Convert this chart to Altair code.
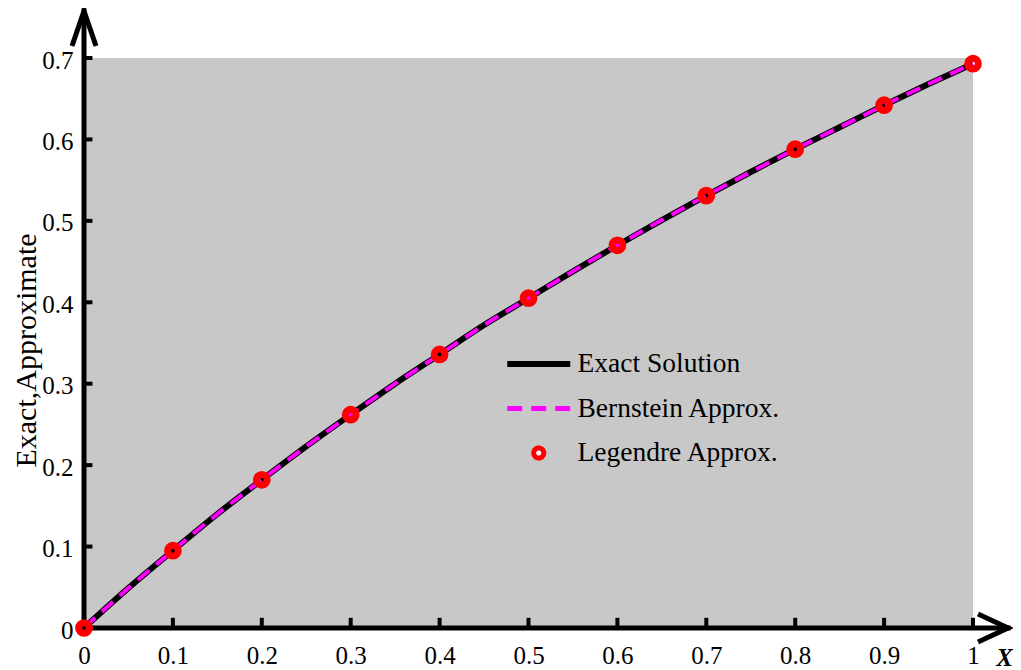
import altair as alt
import pandas as pd

SERIF = "Liberation Serif"

# ---- data ----
series_names = ["Exact Solution", "Bernstein Approx.", "Legendre Approx."]

x_fine = [0.0, 0.05, 0.1, 0.15, 0.2, 0.25, 0.3, 0.35, 0.4, 0.45, 0.5,
          0.55, 0.6, 0.65, 0.7, 0.75, 0.8, 0.85, 0.9, 0.95, 1.0]
exact_y = [0.0, 0.049, 0.095, 0.140, 0.182, 0.223, 0.262, 0.300, 0.336, 0.372, 0.405,
           0.438, 0.470, 0.501, 0.531, 0.560, 0.588, 0.615, 0.642, 0.668, 0.693]
bernstein_y = [0.0, 0.049, 0.095, 0.140, 0.182, 0.223, 0.262, 0.300, 0.336, 0.372, 0.405,
               0.438, 0.470, 0.501, 0.531, 0.560, 0.588, 0.615, 0.642, 0.668, 0.693]

x_coarse = [0.0, 0.1, 0.2, 0.3, 0.4, 0.5, 0.6, 0.7, 0.8, 0.9, 1.0]
legendre_y = [0.0, 0.095, 0.182, 0.262, 0.336, 0.405, 0.470, 0.531, 0.588, 0.642, 0.693]

x_tick_labels = [0, 0.1, 0.2, 0.3, 0.4, 0.5, 0.6, 0.7, 0.8, 0.9, 1]
y_tick_labels = [0, 0.1, 0.2, 0.3, 0.4, 0.5, 0.6, 0.7]
x_inner_ticks = [0.1, 0.2, 0.3, 0.4, 0.5, 0.6, 0.7, 0.8, 0.9, 1]
y_inner_ticks = [0.1, 0.2, 0.3, 0.4, 0.5, 0.6, 0.7]

# ---- scales ----
PLOT_W, PLOT_H = 924, 617
X_MAX = PLOT_W / 889.0          # axis arrow extends past 1
Y_MAX = PLOT_H / (570.0 / 0.7)  # axis arrow extends past 0.7
xs = alt.Scale(domain=[0, X_MAX], nice=False, zero=False)
ys = alt.Scale(domain=[0, Y_MAX], nice=False, zero=False)

X_AXIS = alt.Axis(values=x_tick_labels, format="~g", domain=False, ticks=False, grid=False,
                  labelFont=SERIF, labelFontSize=25, labelColor="black", labelPadding=15,
                  labelFlush=False, labelOverlap=False,
                  title="X", titleFont=SERIF, titleFontSize=25, titleFontStyle="italic",
                  titleFontWeight="bold", titleColor="black", titleX=920, titleY=37,
                  titleAlign="center", titleBaseline="alphabetic", titleAngle=0)
Y_AXIS = alt.Axis(values=y_tick_labels, format="~g", domain=False, ticks=False, grid=False,
                  labelFont=SERIF, labelFontSize=25, labelColor="black", labelPadding=11,
                  labelOffset=2, labelFlush=False, labelOverlap=False,
                  title="Exact,Approximate", titleFont=SERIF, titleFontSize=30,
                  titleFontWeight="normal", titleColor="black", titleAngle=270,
                  titleX=-49, titleY=339, titleAlign="center", titleBaseline="alphabetic")

one = pd.DataFrame({"k": [0]})
fine_df = pd.DataFrame({"x": x_fine, "exact": exact_y, "bern": bernstein_y})
coarse_df = pd.DataFrame({"x": x_coarse, "y": legendre_y})
xt_df = pd.DataFrame({"t": x_inner_ticks})
yt_df = pd.DataFrame({"t": y_inner_ticks})
legend_df = pd.DataFrame({"series": series_names})

bg = alt.Chart(one).mark_rect(color="#c8c8c8").encode(
    x=alt.datum(0, scale=xs, axis=X_AXIS, type="quantitative"), x2=alt.datum(1),
    y=alt.datum(0, scale=ys, axis=Y_AXIS, type="quantitative"), y2=alt.datum(0.7))

y_line = alt.Chart(one).mark_rule(color="black", strokeWidth=5, strokeCap="square").encode(
    x=alt.datum(0, type="quantitative"), y=alt.datum(0, type="quantitative"), y2=alt.datum(Y_MAX))
x_line = alt.Chart(one).mark_rule(color="black", strokeWidth=5, strokeCap="square").encode(
    y=alt.datum(0, type="quantitative"), x=alt.datum(0, type="quantitative"), x2=alt.datum(X_MAX))

x_ticks = alt.Chart(xt_df).mark_rule(color="black", strokeWidth=4).encode(
    x=alt.X("t:Q"), y=alt.datum(0, type="quantitative"), y2=alt.datum(0.0125))
y_ticks = alt.Chart(yt_df).mark_rule(color="black", strokeWidth=4).encode(
    y=alt.Y("t:Q"), x=alt.datum(0, type="quantitative"), x2=alt.datum(0.0095))

exact_line = alt.Chart(fine_df).mark_line(color="black", strokeWidth=6, interpolate="monotone").encode(
    x="x:Q", y="exact:Q")
bern_line = alt.Chart(fine_df).mark_line(color="#ff00ff", strokeWidth=4, strokeDash=[15, 9],
                                         interpolate="monotone").encode(x="x:Q", y="bern:Q")
leg_pts = alt.Chart(coarse_df).mark_point(shape="circle", size=115, filled=False, color="red",
                                          strokeWidth=7, opacity=1).encode(x="x:Q", y="y:Q")

up_arrow = alt.Chart(one).mark_point(shape="M-0.686,2L0,0L0.686,2", size=1225, filled=False,
                                     color="black", strokeWidth=5, strokeJoin="miter",
                                     opacity=1).encode(
    x=alt.datum(0, type="quantitative"), y=alt.datum(Y_MAX, type="quantitative"))
right_arrow = alt.Chart(one).mark_point(shape="M-2,-0.93L0,0L-2,0.93", size=900, filled=False,
                                        color="black", strokeWidth=5, strokeJoin="miter",
                                        opacity=1).encode(
    x=alt.datum(X_MAX, type="quantitative"), y=alt.datum(0, type="quantitative"))

# legend symbols: unit = sqrt(324)/2 = 9 px
LINE_PATH = "M-3.5,0H3.5"
CIRCLE_PATH = "M-0.56,0A0.56,0.56,0,1,0,0.56,0A0.56,0.56,0,1,0,-0.56,0Z"
legend_layer = alt.Chart(legend_df).transform_filter("false").mark_point(
    filled=True, opacity=1).encode(
    color=alt.Color("series:N",
                    scale=alt.Scale(domain=series_names,
                                    range=["transparent", "transparent", "white"]),
                    legend=alt.Legend(
                        orient="none", legendX=420, legendY=333, title=None, padding=0,
                        labelFont=SERIF, labelFontSize=27.5, labelColor="black",
                        labelOffset=25, labelLimit=400, symbolOffset=21,
                        symbolSize=324, clipHeight=40, rowPadding=4.5, symbolOpacity=1,
                        symbolType={"expr": "datum.value === 'Legendre Approx.' ? '" + CIRCLE_PATH + "' : '" + LINE_PATH + "'"},
                        symbolStrokeColor={"expr": "datum.value === 'Exact Solution' ? 'black' : (datum.value === 'Bernstein Approx.' ? '#ff00ff' : 'red')"},
                        symbolStrokeWidth={"expr": "datum.value === 'Exact Solution' ? 6 : 5"},
                        symbolDash={"expr": "datum.value === 'Bernstein Approx.' ? [15, 9] : [1, 0]"},
                    )))

chart = alt.layer(bg, exact_line, bern_line, x_ticks, y_ticks, y_line, x_line, leg_pts,
                  up_arrow, right_arrow, legend_layer).properties(
    width=PLOT_W, height=PLOT_H,
    padding={"left": 76, "top": 3, "right": 5, "bottom": 42},
    autosize=alt.AutoSizeParams(type="none"),
    background="white",
).configure_view(stroke=None)

chart.save("out.html", embed_options={"renderer": "svg", "actions": False})
